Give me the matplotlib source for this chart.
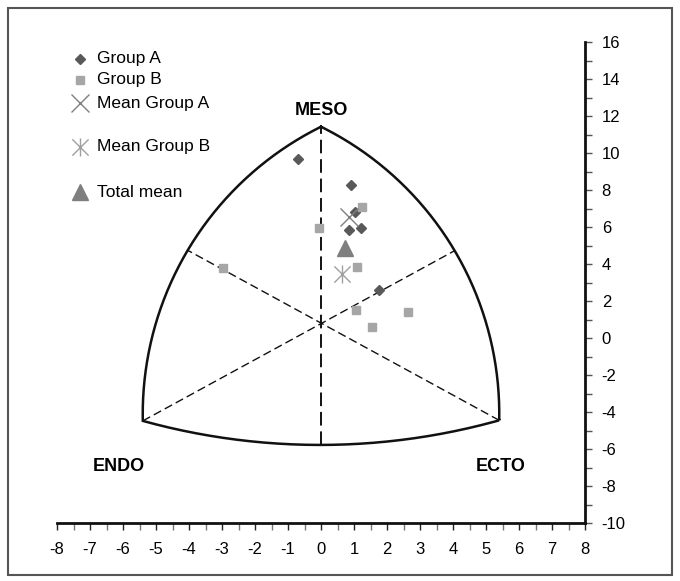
import numpy as np
import matplotlib.pyplot as plt
from matplotlib.path import Path
from matplotlib.patches import Rectangle
from matplotlib.ticker import MultipleLocator

plt.rcParams['font.family'] = ['Liberation Sans', 'DejaVu Sans']
plt.rcParams['axes.unicode_minus'] = False

# somatotype coordinates: X = ecto - endo, Y = 2*meso - (endo + ecto)
group_a_x = [-0.69, 0.90, 1.03, 0.85, 1.21, 1.76]
group_a_y = [9.66, 8.27, 6.83, 5.82, 5.93, 2.59]
group_b_x = [1.23, -0.06, 1.10, 1.06, 2.65, 1.55, -2.98]
group_b_y = [7.08, 5.93, 3.82, 1.51, 1.41, 0.58, 3.77]

# somatochart frame
frame_top = (0.0, 11.42)
frame_left = (-5.4, -4.48)
frame_right = (5.4, -4.45)
frame_bottom = (0.0, -5.78)
frame_mid_left = (-4.04, 4.74)
frame_mid_right = (4.05, 4.72)
frame_centre = (0.0, 0.82)

mean_a = (np.mean(group_a_x), np.mean(group_a_y))
mean_b = (np.mean(group_b_x), np.mean(group_b_y))
mean_all = (np.mean(group_a_x + group_b_x), np.mean(group_a_y + group_b_y))


def arc(p0, pm, p1, sy=0.56, n=80):
    # circular arc through three points, fitted in screen-like units
    pts = np.array([p0, pm, p1], float)
    pts[:, 1] *= sy
    (x0, y0), (x1, y1), (x2, y2) = pts
    d = 2 * (x0 * (y1 - y2) + x1 * (y2 - y0) + x2 * (y0 - y1))
    s0, s1, s2 = x0**2 + y0**2, x1**2 + y1**2, x2**2 + y2**2
    ux = (s0 * (y1 - y2) + s1 * (y2 - y0) + s2 * (y0 - y1)) / d
    uy = (s0 * (x2 - x1) + s1 * (x0 - x2) + s2 * (x1 - x0)) / d
    r = np.hypot(x0 - ux, y0 - uy)
    ang = np.unwrap(np.arctan2(pts[:, 1] - uy, pts[:, 0] - ux))
    t = np.linspace(ang[0], ang[2], n)
    return ux + r * np.cos(t), (uy + r * np.sin(t)) / sy


fig = plt.figure(figsize=(6.8, 5.81), dpi=100)
ax = fig.add_axes([57 / 680, 58 / 581, 528 / 680, 481 / 581])
ax.set_xlim(-8, 8)
ax.set_ylim(-10, 16)

# frame outline
xs, ys = [], []
for seg in [(frame_top, frame_mid_left, frame_left),
            (frame_left, frame_bottom, frame_right),
            (frame_right, frame_mid_right, frame_top)]:
    sx, sy_ = arc(*seg)
    xs.extend(sx)
    ys.extend(sy_)
ax.plot(xs, ys, color='#111111', lw=1.8, solid_joinstyle='miter')

# axes of the chart
ax.plot([frame_bottom[0], frame_top[0]], [frame_bottom[1], frame_top[1]],
        color='#111111', lw=1.4, dashes=(7, 3))
ax.plot([frame_left[0], frame_mid_right[0]], [frame_left[1], frame_mid_right[1]],
        color='#111111', lw=1.0, dashes=(6, 3))
ax.plot([frame_right[0], frame_mid_left[0]], [frame_right[1], frame_mid_left[1]],
        color='#111111', lw=1.0, dashes=(6, 3))

ax.text(0.02, 12.29, 'MESO', ha='center', va='center', fontsize=13, fontweight='bold')
ax.text(-6.12, -6.92, 'ENDO', ha='center', va='center', fontsize=13, fontweight='bold')
ax.text(5.45, -6.92, 'ECTO', ha='center', va='center', fontsize=13, fontweight='bold')

star = Path([(0, -1), (0, 1), (-0.9, -0.9), (0.9, 0.9), (-0.9, 0.9), (0.9, -0.9)],
            [Path.MOVETO, Path.LINETO] * 3)

styles = [
    dict(marker='D', color='#595959', ms=5, ls='none'),
    dict(marker='s', color='#a6a6a6', ms=6, ls='none'),
    dict(marker='x', color='#808080', ms=13, mew=1.0, ls='none'),
    dict(marker=star, color='#a0a0a0', mfc='none', ms=13, mew=1.0, ls='none'),
    dict(marker='^', color='#7f7f7f', ms=12, ls='none'),
]
labels = ['Group A', 'Group B', 'Mean Group A', 'Mean Group B', 'Total mean']

ax.plot(group_a_x, group_a_y, **styles[0])
ax.plot(group_b_x, group_b_y, **styles[1])
ax.plot(*mean_a, **styles[2])
ax.plot(*mean_b, **styles[3])
ax.plot(*mean_all, **styles[4])

# legend, entries spaced by hand
legend_y = [0.9647, 0.921, 0.873, 0.782, 0.688]
for st, lab, ly in zip(styles, labels, legend_y):
    ax.plot(0.0436, ly, transform=ax.transAxes, clip_on=False, **st)
    ax.text(0.0758, ly, lab, transform=ax.transAxes, va='center', fontsize=12.5)

for side in ['left', 'top']:
    ax.spines[side].set_visible(False)
for side in ['right', 'bottom']:
    ax.spines[side].set_linewidth(2)
    ax.spines[side].set_color('#111111')

ax.xaxis.set_major_locator(MultipleLocator(1))
ax.xaxis.set_minor_locator(MultipleLocator(0.5))
ax.yaxis.tick_right()
ax.yaxis.set_major_locator(MultipleLocator(2))
ax.yaxis.set_minor_locator(MultipleLocator(1))
ax.tick_params(axis='x', which='both', direction='out', length=5, width=1,
               color='#777777', labelsize=12, pad=9)
ax.tick_params(axis='y', which='both', direction='out', length=5, width=1,
               color='#555555', labelsize=12, pad=7)
ax.tick_params(axis='x', which='major', color='#222222')

fig.add_artist(Rectangle((8 / 680, 6 / 581), 664 / 680, 567 / 581,
                         transform=fig.transFigure, fill=False,
                         ec='#555555', lw=1.5))

fig.savefig('out.png', dpi=100)
